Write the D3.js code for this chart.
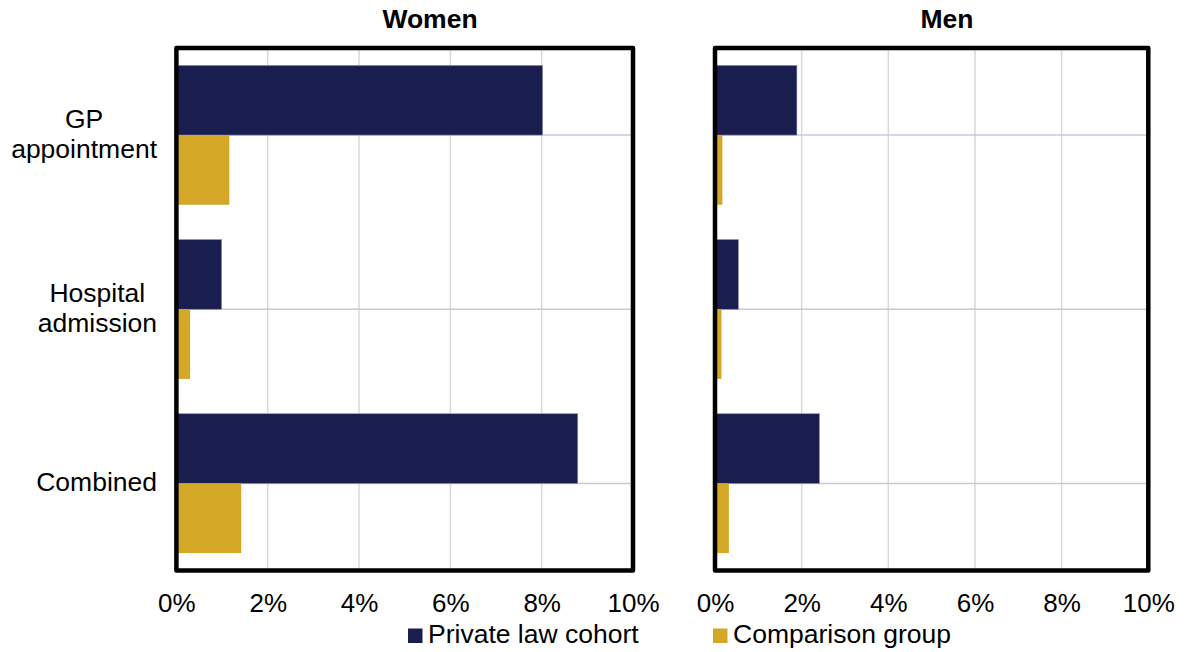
<!DOCTYPE html>
<html>
<head>
<meta charset="utf-8">
<script src="https://cdn.jsdelivr.net/npm/d3@7"></script>
<style>
  html, body { margin: 0; padding: 0; background: #fff; }
  svg { display: block; font-family: "Liberation Sans", Arial, sans-serif; }
</style>
</head>
<body>
<svg id="chart" width="1191" height="652"></svg>
<script>
// ---- Data ----
const categories = ["GP appointment", "Hospital admission", "Combined"];
const categoryLines = [["GP", "appointment"], ["Hospital", "admission"], ["Combined"]];
const seriesNames = ["Private law cohort", "Comparison group"];
const panelTitles = ["Women", "Men"];
const womenPrivate = [8.02, 0.99, 8.79];
const womenComparison = [1.16, 0.30, 1.42];
const menPrivate = [1.89, 0.54, 2.41];
const menComparison = [0.17, 0.15, 0.32];
const tickValues = [0, 2, 4, 6, 8, 10];
const tickLabels = ["0%", "2%", "4%", "6%", "8%", "10%"];

const colors = ["#1a1e4e", "#d4a726"];
const FONT = "'Liberation Sans', Arial, sans-serif";

const svg = d3.select("#chart");

const panels = [
  { title: panelTitles[0], values: [womenPrivate, womenComparison], x0: 176.4, x1: 633, titleX: 430, showLabels: true },
  { title: panelTitles[1], values: [menPrivate, menComparison], x0: 715, x1: 1148.3, titleX: 947, showLabels: false }
];

const yTop = 48, yBottom = 570.5;
const y = d3.scaleBand().domain(categories).range([yTop, yBottom]).paddingInner(0).paddingOuter(0);
const barH = y.bandwidth() * 0.4;

panels.forEach(p => {
  const x = d3.scaleLinear().domain([0, 10]).range([p.x0, p.x1]);
  const g = svg.append("g");

  // vertical gridlines
  g.selectAll(".vgrid").data(tickValues.slice(1, -1)).enter().append("line")
    .attr("x1", d => x(d)).attr("x2", d => x(d))
    .attr("y1", yTop).attr("y2", yBottom)
    .attr("stroke", "#d9d9d9").attr("stroke-width", 1.5);

  // horizontal lines at category centres
  g.selectAll(".hgrid").data(categories).enter().append("line")
    .attr("x1", x(0)).attr("x2", x(10))
    .attr("y1", d => y(d) + y.bandwidth() / 2).attr("y2", d => y(d) + y.bandwidth() / 2)
    .attr("stroke", "#c8c8dc").attr("stroke-width", 1.5);

  // bars
  p.values.forEach((vals, si) => {
    g.selectAll(".bar" + si).data(vals).enter().append("rect")
      .attr("x", x(0))
      .attr("y", (d, i) => y(categories[i]) + y.bandwidth() / 2 - barH + si * barH)
      .attr("width", d => x(d) - x(0))
      .attr("height", barH)
      .attr("fill", colors[si])
      .attr("stroke", si === 0 ? "#8a8cb4" : "none")
      .attr("stroke-width", 0.6);
  });

  // frame
  g.append("rect")
    .attr("x", x(0)).attr("y", yTop)
    .attr("width", x(10) - x(0)).attr("height", yBottom - yTop)
    .attr("fill", "none").attr("stroke", "#000").attr("stroke-width", 4.5)
    .attr("stroke-linejoin", "round");

  // x axis tick labels
  const axis = d3.axisBottom(x).tickValues(tickValues)
    .tickFormat((d, i) => tickLabels[i]).tickSize(0).tickPadding(0);
  const ax = svg.append("g").attr("transform", `translate(0,${yBottom})`).call(axis);
  ax.select(".domain").remove();
  ax.selectAll("text")
    .attr("dy", null).attr("y", 41.5)
    .attr("fill", "#000")
    .style("font-size", "26px")
    .style("font-family", FONT);

  // title
  svg.append("text").attr("x", p.titleX).attr("y", 28)
    .attr("text-anchor", "middle").attr("font-size", "26.5px").attr("font-weight", "bold")
    .text(p.title);

  // category labels: block right-aligned, lines centred within the block
  if (p.showLabels) {
    categoryLines.forEach((lines, i) => {
      const cy = y(categories[i]) + y.bandwidth() / 2;
      const t = svg.append("text").attr("text-anchor", "middle").attr("font-size", "26.5px").attr("fill", "#000");
      const spans = lines.map((ln, li) => {
        const base = lines.length === 1 ? cy + 8 : cy - 7.5 + li * 30.5;
        return t.append("tspan").attr("y", base).text(ln);
      });
      // measure widest line
      let maxW = 0;
      spans.forEach(s => { maxW = Math.max(maxW, s.node().getComputedTextLength()); });
      const cx = 157 - maxW / 2;
      spans.forEach(s => s.attr("x", cx));
    });
  }
});

// legend
const legendItems = [
  { name: seriesNames[0], color: colors[0], x: 408 },
  { name: seriesNames[1], color: colors[1], x: 713 }
];
const lg = svg.append("g");
legendItems.forEach(it => {
  lg.append("rect").attr("x", it.x).attr("y", 628.5).attr("width", 14.5).attr("height", 14.5).attr("fill", it.color);
  lg.append("text").attr("x", it.x + 20).attr("y", 643).attr("font-size", "26.5px").attr("fill", "#000").text(it.name);
});
</script>
</body>
</html>
